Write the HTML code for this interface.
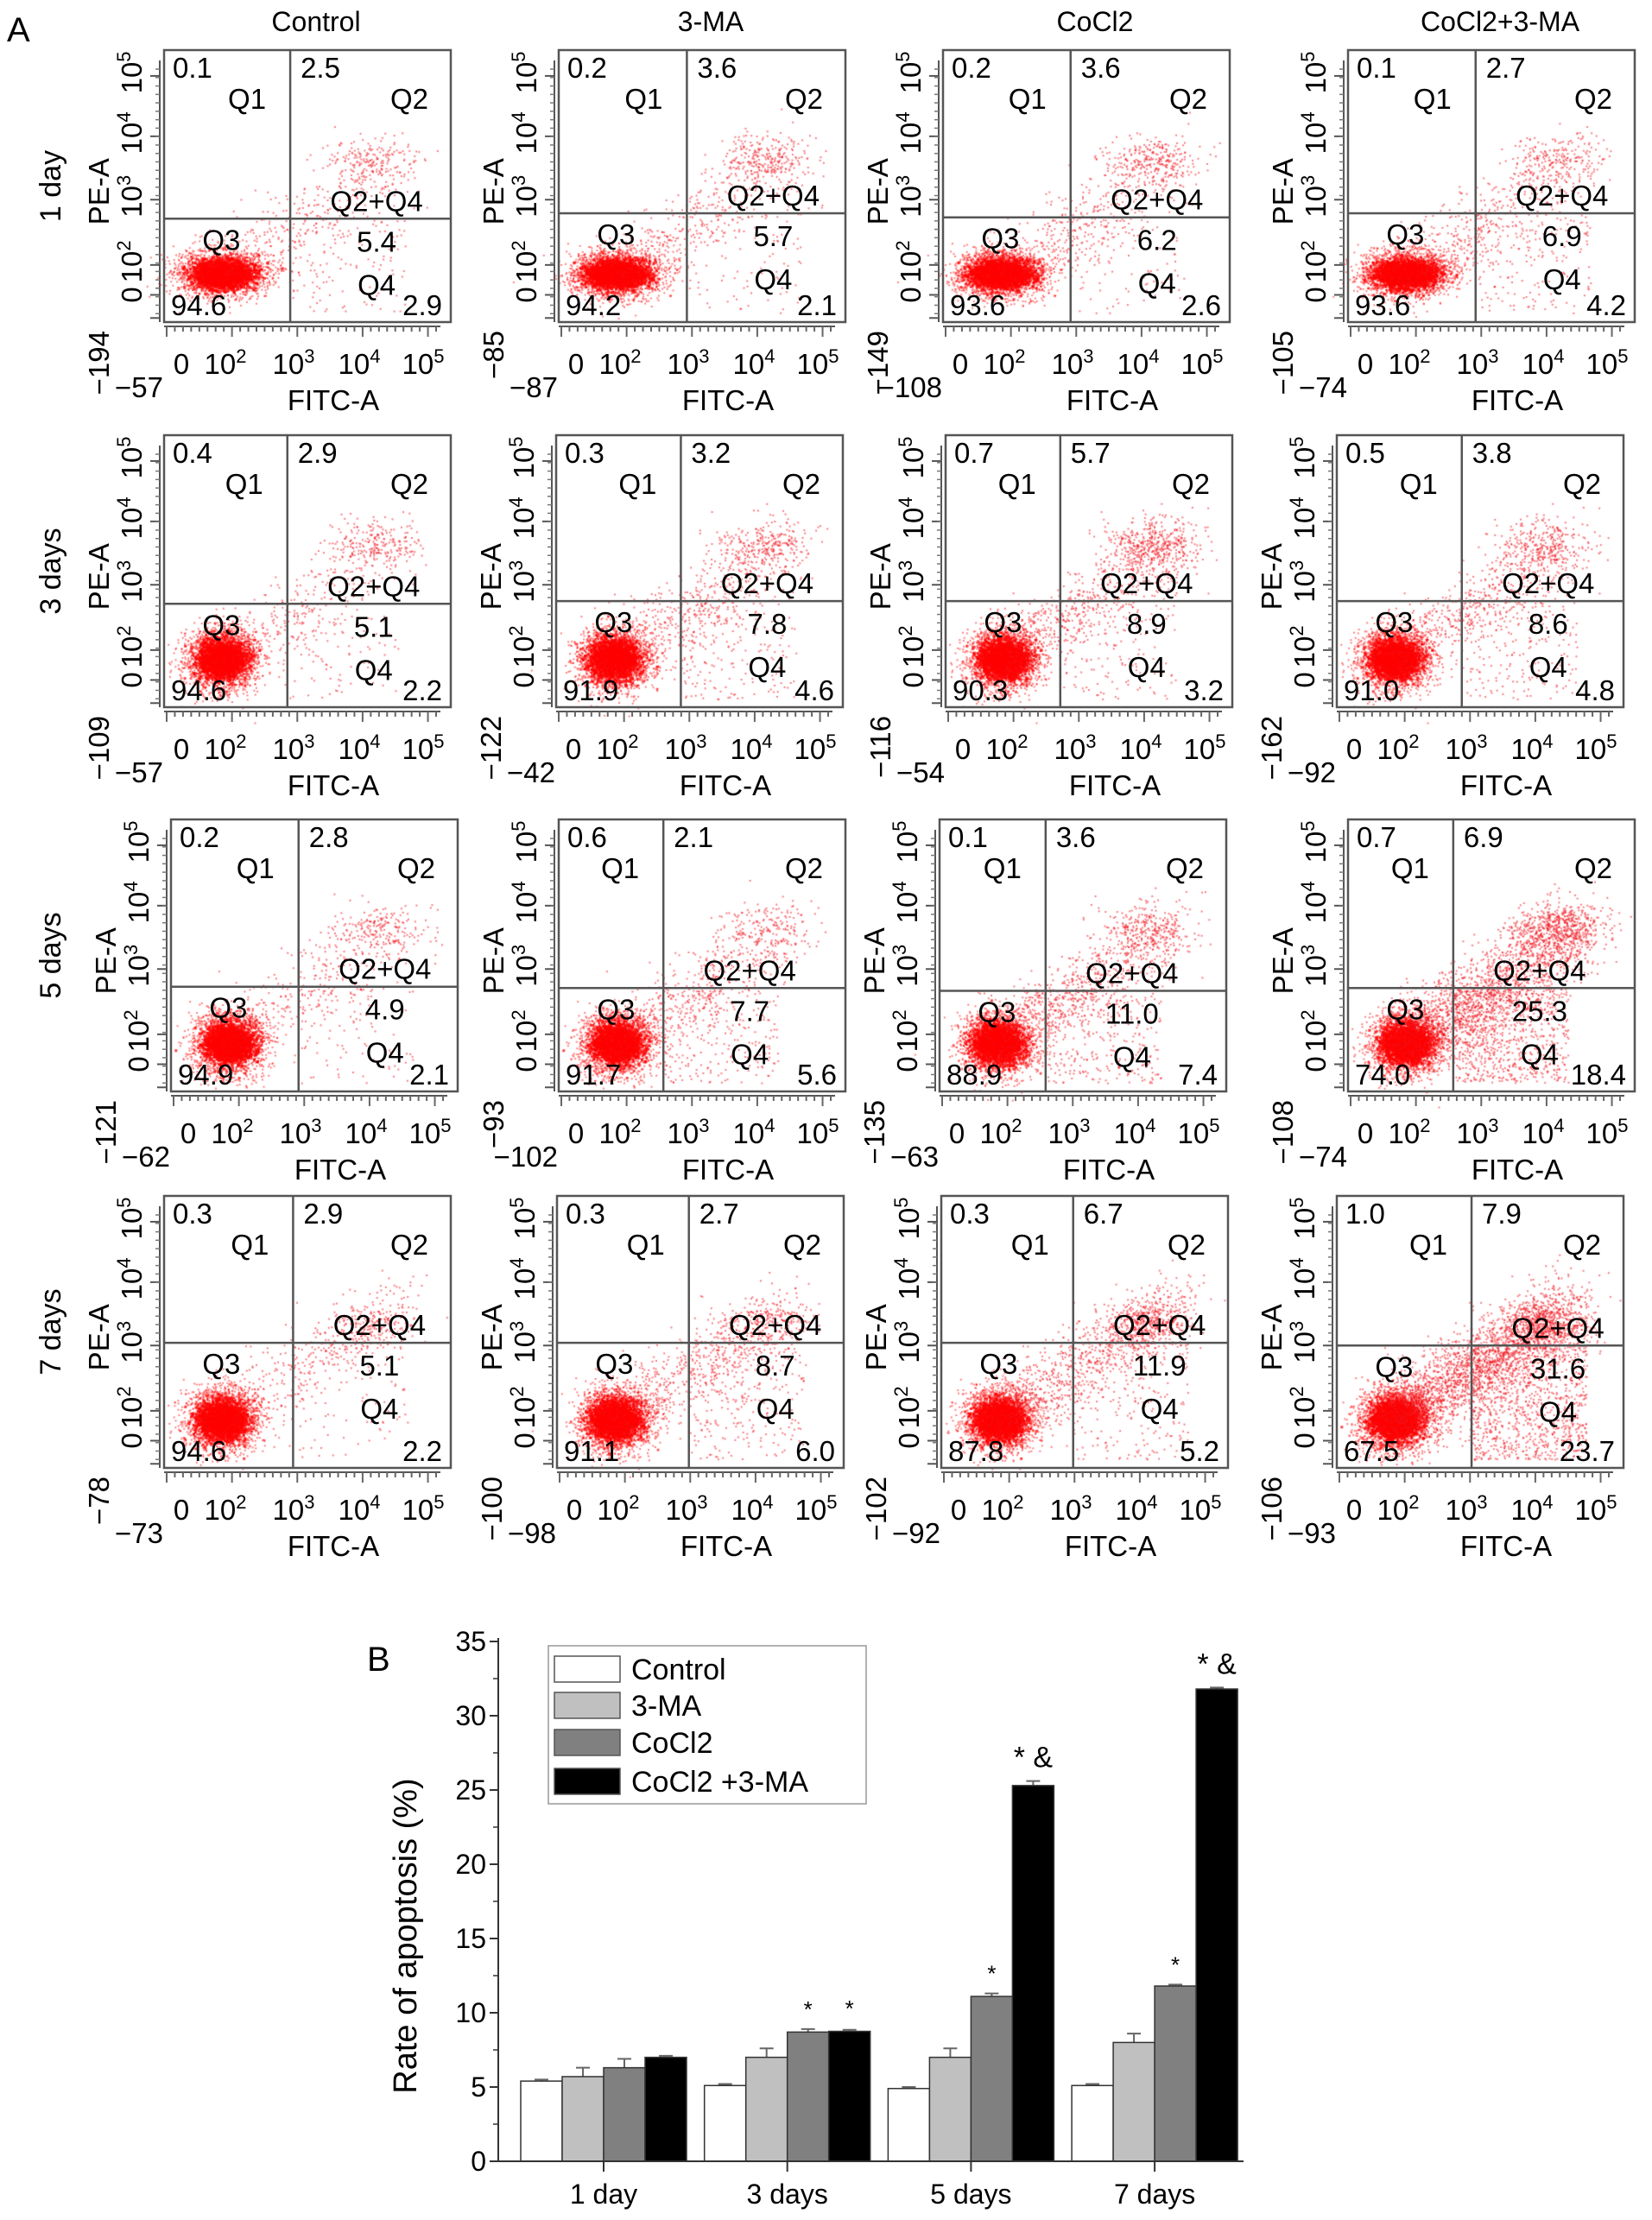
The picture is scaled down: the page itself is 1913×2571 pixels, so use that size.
<!DOCTYPE html>
<html><head><meta charset="utf-8">
<style>
html,body{margin:0;padding:0;background:#fff;}
#root{position:relative;width:1913px;height:2571px;overflow:hidden;font-family:"Liberation Sans",sans-serif;}
canvas,svg{position:absolute;left:0;top:0;}
</style></head>
<body>
<div id="root">
<canvas id="dots" width="1913" height="2571"></canvas>
<svg id="fig" width="1913" height="2571" xmlns="http://www.w3.org/2000/svg"></svg>
</div>
<script>
// ===== Panel A data =====
const colTitles = ["Control","3-MA","CoCl2","CoCl2+3-MA"];
const rowTitles = ["1 day","3 days","5 days","7 days"];
// [Q1, Q2, Q2+Q4, Q4, Q3, yNeg, xNeg]
const quadValues = [
 [["0.1","2.5","5.4","2.9","94.6","−194","−57"],["0.2","3.6","5.7","2.1","94.2","−85","−87"],["0.2","3.6","6.2","2.6","93.6","−149","−108"],["0.1","2.7","6.9","4.2","93.6","−105","−74"]],
 [["0.4","2.9","5.1","2.2","94.6","−109","−57"],["0.3","3.2","7.8","4.6","91.9","−122","−42"],["0.7","5.7","8.9","3.2","90.3","−116","−54"],["0.5","3.8","8.6","4.8","91.0","−162","−92"]],
 [["0.2","2.8","4.9","2.1","94.9","−121","−62"],["0.6","2.1","7.7","5.6","91.7","−93","−102"],["0.1","3.6","11.0","7.4","88.9","−135","−63"],["0.7","6.9","25.3","18.4","74.0","−108","−74"]],
 [["0.3","2.9","5.1","2.2","94.6","−78","−73"],["0.3","2.7","8.7","6.0","91.1","−100","−98"],["0.3","6.7","11.9","5.2","87.8","−102","−92"],["1.0","7.9","31.6","23.7","67.5","−106","−93"]]
];
const vFrac = [[0.44,0.447,0.445,0.445],[0.43,0.435,0.40,0.436],[0.445,0.365,0.37,0.367],[0.45,0.46,0.46,0.47]];
const hFrac = [[0.62,0.60,0.615,0.60],[0.62,0.61,0.61,0.61],[0.615,0.62,0.63,0.62],[0.54,0.54,0.54,0.55]];

// ===== Panel B data =====
const categories = ["1 day","3 days","5 days","7 days"];
const seriesNames = ["Control","3-MA","CoCl2","CoCl2 +3-MA"];
const controlVals = [5.4,5.1,4.9,5.1];
const maVals = [5.7,7.0,7.0,8.0];
const cocl2Vals = [6.3,8.7,11.1,11.8];
const comboVals = [7.0,8.75,25.3,31.8];
const controlErr = [0.1,0.1,0.1,0.1];
const maErr = [0.6,0.6,0.6,0.6];
const cocl2Err = [0.6,0.2,0.2,0.1];
const comboErr = [0.1,0.1,0.3,0.1];
const cocl2Sig = ["","*","*","*"];
const comboSig = ["","*","* &","* &"];
const yTicks = [0,5,10,15,20,25,30,35];

const NS="http://www.w3.org/2000/svg";
const svg=document.getElementById('fig');
function el(tag,attrs,parent,text){const e=document.createElementNS(NS,tag);for(const k in attrs)e.setAttribute(k,attrs[k]);if(text!==undefined)e.textContent=text;(parent||svg).appendChild(e);return e;}

let seed=12345;function rnd(){seed=(seed*1103515245+12345)&0x7fffffff;return seed/0x7fffffff;}
function gauss(){let u=rnd()||1e-6,v=rnd();return Math.sqrt(-2*Math.log(u))*Math.cos(2*Math.PI*v);}

const ctx=document.getElementById('dots').getContext('2d');
const colLeftByRow=[[190,647,1092,1561],[190,644,1095,1548],[198,647,1088,1561],[190,645,1090,1548]];
const rowTop=[58,504,949,1385];
const BW=332,BH=315;

const lblA=el('text',{x:8,y:48,'font-size':40,fill:'#000'},svg,'A');


colTitles.forEach((t,c)=>{
 const e=el('text',{x:colLeftByRow[0][c]+BW/2+10,y:36,'font-size':32,'text-anchor':'middle'},svg,t);
 
});
rowTitles.forEach((t,r)=>{
 const cy=rowTop[r]+BH/2;
 const e=el('text',{x:0,y:0,'font-size':34,'text-anchor':'middle',transform:`translate(70,${cy}) rotate(-90)`},svg,t);
 
});
function pow10(parent,attrs,exp){
 const t=el('text',attrs,parent);
 if(exp===null){t.textContent='0';return t;}
 const a=el('tspan',{},t,'10');const b=el('tspan',{dy:-13,'font-size':22},t,String(exp));return t;
}
const fs=33;
for(let r=0;r<4;r++)for(let c=0;c<4;c++){
 const x0=colLeftByRow[r][c],y0=rowTop[r],q=quadValues[r][c];
 const vx=x0+BW*vFrac[r][c],hy=y0+BH*hFrac[r][c];
 const g=el('g',{});
 
 // dot texture
 const cx=x0+BW*0.2,cy=y0+BH*0.82;
 const sx=r===0?0.075:0.06, sy=r===0?0.04:0.055;
 ctx.fillStyle='rgba(255,0,0,0.5)';
 for(let i=0;i<2600;i++){const px=cx+gauss()*BW*sx,py=cy+gauss()*BH*sy;ctx.fillRect(px,py,2,2);}
 ctx.fillStyle='rgba(255,0,0,0.75)';
 for(let i=0;i<1500;i++){const px=cx+gauss()*BW*sx*0.65,py=cy+gauss()*BH*sy*0.6;ctx.fillRect(px,py,3,3);}
 const q24=parseFloat(q[2]),q2=parseFloat(q[1]),q4=parseFloat(q[3]);
 ctx.fillStyle='rgba(240,20,30,0.55)';
 const nd=Math.round(q24*75);
 for(let i=0;i<nd;i++){const t=Math.pow(rnd(),1.2);const px=cx+t*(BW*0.62)+gauss()*BW*0.06;const py=cy-t*(BH*0.42)+gauss()*BH*0.07;
  if(px>x0+4&&px<x0+BW-4&&py>y0+4&&py<y0+BH-4)ctx.fillRect(px,py,2,2);}
 const n2=Math.round(q2*70);
 const c2y=r===3?hy-22:y0+BH*0.4;
 for(let i=0;i<n2;i++){const px=x0+BW*0.72+gauss()*BW*0.08,py=c2y+gauss()*BH*0.045;
  if(px>x0+4&&px<x0+BW-4&&py>y0+4&&py<y0+BH-4)ctx.fillRect(px,py,2,2);}
 const n4=Math.round(q4*40);
 for(let i=0;i<n4;i++){const px=vx+rnd()*(BW*0.4),py=hy+rnd()*(y0+BH-hy-10);ctx.fillRect(px,py,2,2);}

 el('rect',{x:x0,y:y0,width:BW,height:BH,fill:'none',stroke:'#555','stroke-width':2.5},g);
 el('line',{x1:vx,y1:y0,x2:vx,y2:y0+BH,stroke:'#555','stroke-width':2.5},g);
 el('line',{x1:x0,y1:hy,x2:x0+BW,y2:hy,stroke:'#555','stroke-width':2.5},g);
 // y axis ticks
 el('line',{x1:x0-5,y1:y0+12,x2:x0-5,y2:y0+BH,stroke:'#555','stroke-width':2},g);
 const ytF=[0.095,0.317,0.55,0.79,0.9,0.985];
 ytF.forEach(f=>el('line',{x1:x0-16,y1:y0+BH*f,x2:x0-5,y2:y0+BH*f,stroke:'#555','stroke-width':2},g));
 for(let k=0;k<30;k++){const f=0.07+k*0.031;el('line',{x1:x0-10,y1:y0+BH*f,x2:x0-5,y2:y0+BH*f,stroke:'#777','stroke-width':1.5},g);}
 // x axis ticks
 el('line',{x1:x0,y1:y0+BH+5,x2:x0+BW-12,y2:y0+BH+5,stroke:'#555','stroke-width':2},g);
 for(let k=0;k<34;k++){const xx=x0+3+k*(BW-20)/33;el('line',{x1:xx,y1:y0+BH+5,x2:xx,y2:y0+BH+(k%8===0?17:11),stroke:'#666','stroke-width':2},g);}
 // x tick labels
 const xtx=[20,71,150,226,300];
 const ex=[null,2,3,4,5];
 xtx.forEach((dx,i)=>pow10(g,{x:x0+dx,y:y0+BH+60,'font-size':fs,'text-anchor':'middle'},ex[i]));
 el('text',{x:x0+BW/2+30,y:y0+BH+102,'font-size':fs,'text-anchor':'middle'},g,'FITC-A');
 el('text',{x:x0-1,y:y0+BH+87,'font-size':fs,'text-anchor':'end'},g,q[6]);
 // y labels
 el('text',{x:0,y:0,'font-size':fs,'text-anchor':'middle',transform:`translate(${x0-64},${y0+BH*0.52}) rotate(-90)`},g,'PE-A');
 const ytl=[[0.9,null],[0.79,2],[0.55,3],[0.317,4],[0.095,5]];
 ytl.forEach(([f,e])=>pow10(g,{x:0,y:0,'font-size':fs,'text-anchor':'middle',transform:`translate(${x0-26},${y0+BH*f+(e===null?0:-4)}) rotate(-90)`},e));
 el('text',{x:0,y:0,'font-size':fs,'text-anchor':'end',transform:`translate(${x0-64},${y0+BH+10}) rotate(-90)`},g,q[5]);
 // quadrant labels
 el('text',{x:x0+10,y:y0+32,'font-size':fs},g,q[0]);
 el('text',{x:vx+12,y:y0+32,'font-size':fs},g,q[1]);
 el('text',{x:vx-28,y:y0+68,'font-size':fs,'text-anchor':'end'},g,'Q1');
 el('text',{x:x0+BW-26,y:y0+68,'font-size':fs,'text-anchor':'end'},g,'Q2');
 el('text',{x:vx+100,y:hy-9,'font-size':fs,'text-anchor':'middle'},g,'Q2+Q4');
 el('text',{x:vx+100,y:hy+38,'font-size':fs,'text-anchor':'middle'},g,q[2]);
 el('text',{x:x0+BW*0.2,y:hy+36,'font-size':fs,'text-anchor':'middle'},g,'Q3');
 el('text',{x:vx+100,y:hy+88,'font-size':fs,'text-anchor':'middle'},g,'Q4');
 el('text',{x:x0+8,y:y0+BH-8,'font-size':fs},g,q[4]);
 el('text',{x:x0+BW-10,y:y0+BH-8,'font-size':fs,'text-anchor':'end'},g,q[3]);
}

// ===== Panel B =====
const X0=577,X1=1440,Y0=2503,Y35=1901;
function yS(v){return Y0-(v/35)*(Y0-Y35);}
const groupCenters0=699, groupStep=212.7, barW=48;
function xS(ci,si){return groupCenters0+ci*groupStep+(si-2)*barW;}
const lblB=el('text',{x:425,y:1935,'font-size':40},svg,'B');


const gb=el('g',{});
const allVals=[controlVals,maVals,cocl2Vals,comboVals];
const allErr=[controlErr,maErr,cocl2Err,comboErr];
const fills=['#ffffff','#c0c0c0','#808080','#000000'];
for(let s=0;s<4;s++)for(let c=0;c<4;c++){
 const v=allVals[s][c],e=allErr[s][c],x=xS(c,s);
 const err=el('path',{d:`M${x+barW/2} ${yS(v)} V${yS(v+e)} M${x+barW/2-8} ${yS(v+e)} H${x+barW/2+8}`,stroke:'#666','stroke-width':2,fill:'none'},gb);
 
 const b=el('rect',{x:x,y:yS(v),width:barW,height:Y0-yS(v),fill:fills[s],stroke:'#333','stroke-width':1.5},gb);
 
 
}
for(let c=0;c<4;c++){
 if(cocl2Sig[c]){const t=el('text',{x:xS(c,2)+barW/2,y:yS(cocl2Vals[c]+cocl2Err[c])-14,'font-size':26,'text-anchor':'middle'},gb,cocl2Sig[c]);}
 if(comboSig[c]){const t=el('text',{x:xS(c,3)+barW/2,y:yS(comboVals[c]+comboErr[c])-16,'font-size':comboSig[c].length>1?34:26,'text-anchor':'middle'},gb,comboSig[c]);}
}
el('line',{x1:X0,y1:Y35-4,x2:X0,y2:Y0,stroke:'#333','stroke-width':2},gb);
el('line',{x1:X0,y1:Y0,x2:X1,y2:Y0,stroke:'#333','stroke-width':2},gb);
yTicks.forEach(v=>{
 el('line',{x1:X0-10,y1:yS(v),x2:X0,y2:yS(v),stroke:'#333','stroke-width':2},gb);
 const t=el('text',{x:X0-14,y:yS(v)+11,'font-size':32,'text-anchor':'end'},gb,String(v));
 
 if(v<35)el('line',{x1:X0-6,y1:yS(v+2.5),x2:X0,y2:yS(v+2.5),stroke:'#333','stroke-width':1.5},gb);
});
categories.forEach((cat,c)=>{
 const cx=groupCenters0+c*groupStep;
 el('line',{x1:cx,y1:Y0,x2:cx,y2:Y0+12,stroke:'#333','stroke-width':2},gb);
 const t=el('text',{x:cx,y:2552,'font-size':32,'text-anchor':'middle'},gb,cat);
 
});
const yt=el('text',{x:0,y:0,'font-size':38,'text-anchor':'middle',transform:`translate(482,${(Y0+Y35)/2+40}) rotate(-90)`},gb,'Rate of apoptosis (%)');

const lg=el('g',{});
el('rect',{x:635,y:1906,width:368,height:183,fill:'#fff',stroke:'#999','stroke-width':1.5},lg);
const lgY=[1933,1975,2018,2063];
seriesNames.forEach((n,i)=>{
 const e=el('g',{},lg);
 el('rect',{x:642,y:lgY[i]-15,width:76,height:30,fill:fills[i],stroke:'#555','stroke-width':1.5},e);
 el('text',{x:731,y:lgY[i]+12,'font-size':34},e,n);
});
</script>
</body></html>
